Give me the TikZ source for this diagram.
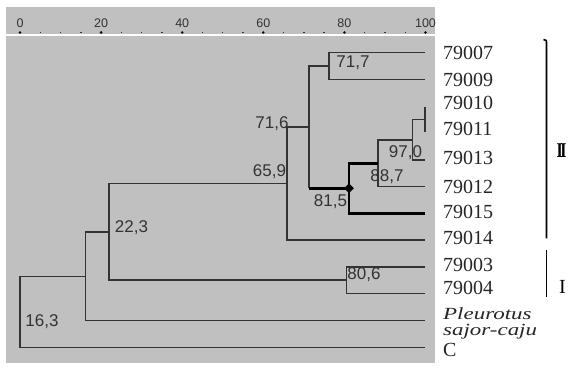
\documentclass[tikz,border=0pt]{standalone}
\usepackage{fontspec}
\setmainfont{Liberation Serif}
\newfontfamily\lsans{Liberation Sans}
\usetikzlibrary{shapes.geometric}
\definecolor{panel}{HTML}{C0C0C0}
\definecolor{ink}{HTML}{333333}
\begin{document}
\begin{tikzpicture}[x=1pt,y=-1pt,
  branch/.style={draw=ink,line width=1.5pt},
  heavybranch/.style={draw=black,line width=2.8pt},
  sim/.style={font=\lsans\fontsize{17}{17}\selectfont,text=ink,inner sep=0pt},
  leaf/.style={anchor=west,font=\fontsize{20}{20}\selectfont,inner sep=0pt,text=black!85},
  spec/.style={anchor=west,font=\fontsize{17}{17}\selectfont\itshape,inner sep=0pt,text=black!85},
  rulerlab/.style={font=\lsans\fontsize{12.5}{12.5}\selectfont,text=ink,inner sep=0pt},
  grp/.style={draw=black,line width=1.6pt}]
\useasboundingbox (0,0) rectangle (569,367);
\fill[white] (0,0) rectangle (569,367);
\fill[panel] (6,7) rectangle (435,363);
\draw[white,line width=2pt] (6,34.5) -- (435,34.5);
% ruler
\foreach \v in {0,5,...,100} { \fill[ink] ({20+4.055*\v-0.7},31.6) rectangle ++(1.4,1.8); }
\foreach \v in {0,20,...,100} {
  \fill[black] ({20+4.055*\v},32.5) circle (1.4);
  \node[rulerlab] (r\v) at ({20+4.055*\v},23) {\v};
}
% leaf ends
\coordinate (L7) at (425,52.7);
\coordinate (L9) at (425,79.3);
\coordinate (L10) at (425,107);
\coordinate (L11) at (425,132);
\coordinate (L13) at (425,160);
\coordinate (L12) at (425,186.7);
\coordinate (L15) at (425,213.3);
\coordinate (L14) at (425,240);
\coordinate (L3) at (425,267);
\coordinate (L4) at (425,293.3);
\coordinate (LP) at (425,320.7);
\coordinate (LC) at (425,347.3);
% internal nodes
\coordinate (n100) at (425,119.5);
\coordinate (n717) at (329,66);
\coordinate (n970) at (412.7,139.75);
\coordinate (n887) at (378,163.2);
\coordinate (n815) at (349,188.3);
\coordinate (n716) at (309,127.1);
\coordinate (n659) at (287,183.6);
\coordinate (n806) at (346.7,280.2);
\coordinate (n223) at (109,231.9);
\coordinate (n163) at (85.7,276.3);
\coordinate (root) at (20,311.8);
% branches
\draw[branch] (L7) -| (n717) |- (L9);
\draw[branch] (L10) -- (L11);
\draw[branch] (n100) -| (n970) |- (L13);
\draw[branch] (n970) -| (n887) |- (L12);
\draw[heavybranch] (n887) -| (n815) |- (L15);
\draw[branch] (n717) -| (n716) -- (n716 |- n815);
\draw[heavybranch] (n716 |- n815) -- (n815);
\draw[branch] (n716) -| (n659) |- (L14);
\draw[branch] (L3) -| (n806) |- (L4);
\draw[branch] (n659) -| (n223) |- (n806);
\draw[branch] (n223) -| (n163) |- (LP);
\draw[branch] (n163) -| (root) |- (LC);
\node[diamond,fill=black,minimum size=10pt,inner sep=0pt] (dm) at (n815) {};
% similarity labels
\node[sim] (s717) at (353,63) {71,7};
\node[sim] (s716) at (272,124) {71,6};
\node[sim] (s659) at (269.5,171.7) {65,9};
\node[sim] (s815) at (330.5,201.7) {81,5};
\node[sim] (s887) at (387,176.7) {88,7};
\node[sim] (s970) at (405.5,153) {97,0};
\node[sim] (s223) at (131.5,227.3) {22,3};
\node[sim] (s163) at (42,322) {16,3};
\node[sim] (s806) at (364,275) {80,6};
% leaf labels
\node[leaf] (t7) at (443,53.3) {79007};
\node[leaf] (t9) at (443,80) {79009};
\node[leaf] (t10) at (443,103.3) {79010};
\node[leaf] (t11) at (443,129.3) {79011};
\node[leaf] (t13) at (443,158.3) {79013};
\node[leaf] (t12) at (443,186.7) {79012};
\node[leaf] (t15) at (443,211.7) {79015};
\node[leaf] (t14) at (443,238.3) {79014};
\node[leaf] (t3) at (443,265) {79003};
\node[leaf] (t4) at (443,288.3) {79004};
\node[spec] (tp1) at (443,314) {\scalebox{1.35}[1]{Pleurotus}};
\node[spec] (tp2) at (443,332) {\scalebox{1.35}[1]{sajor-caju}};
\node[leaf] (tc) at (443,350) {C};
% group brackets
\coordinate (g2a) at (543.5,39.5);
\coordinate (g2b) at (546.5,238.3);
\coordinate (g1a) at (546.5,250);
\coordinate (g1b) at (546.5,296.7);
\draw[grp] (g2a) .. controls (546.5,39.8) .. (546.5,45) -- (g2b);
\draw[grp] (g1a) -- (g1b);
\node[inner sep=0pt,font=\fontsize{21}{21}\selectfont\bfseries] (gII) at (561.5,151) {\scalebox{0.75}[1]{I\kern-3pt I}};
\node[inner sep=0pt,font=\fontsize{20}{20}\selectfont] (gI) at (562.5,287) {I};
\end{tikzpicture}
\end{document}
